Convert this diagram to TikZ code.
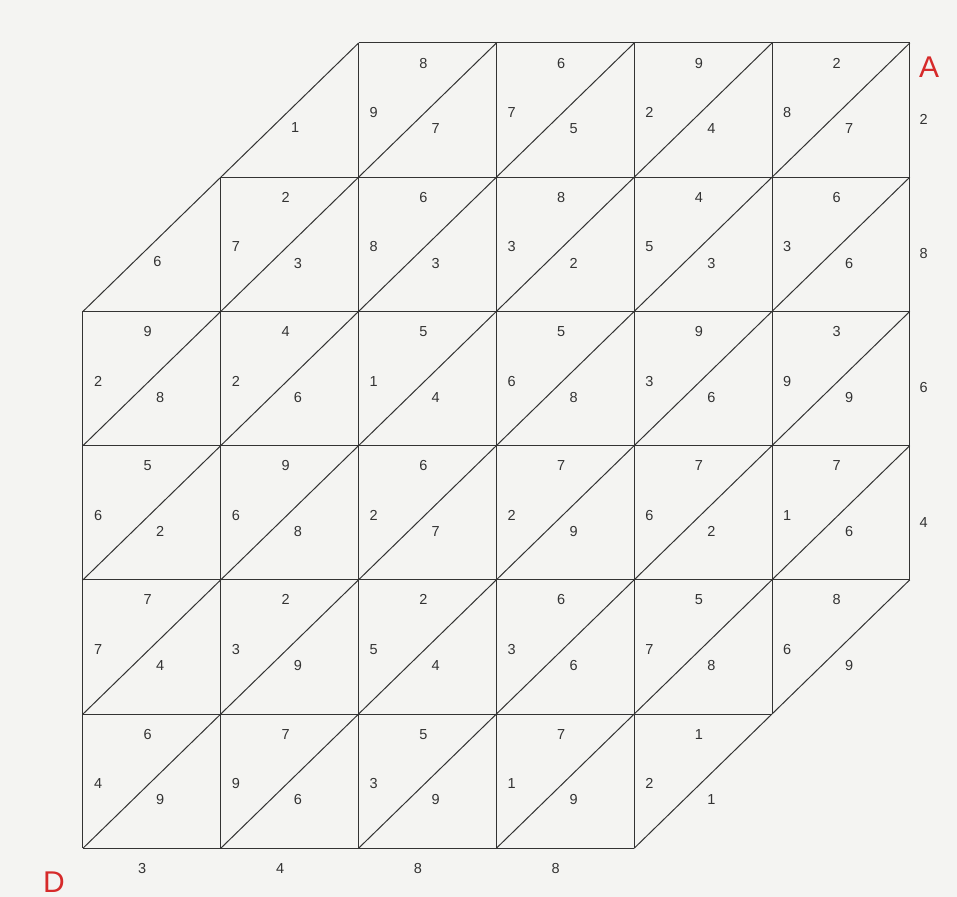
\documentclass[tikz,border=0pt]{standalone}
\usepackage{fontspec}
\setmainfont{Liberation Sans}
\usetikzlibrary{backgrounds}
\definecolor{paper}{HTML}{F4F4F2}
\definecolor{ink}{HTML}{333333}
\definecolor{tag}{HTML}{D62A2A}
\tikzset{
  gridline/.style={draw=ink,line width=1pt},
  num/.style={inner sep=0pt,text=ink,font=\fontsize{14.5}{16}\selectfont},
  corner/.style={inner sep=0pt,text=tag,font=\fontsize{30}{33}\selectfont},
}

\begin{document}
\begin{tikzpicture}[x=137.8pt,y=-134.2pt]
\fill[paper] (-0.6023,-0.3204) rectangle (6.3425,6.3636);
\useasboundingbox (-0.6023,-0.3204) rectangle (6.3425,6.3636);
% grid points
\foreach \c in {0,...,6}
  \foreach \r in {0,...,6}
    \coordinate (p\c-\r) at (\c,\r);
% verticals and horizontals (staircase cut at two corners)
\foreach \c/\a/\b in {0/2/6,1/1/6,2/0/6,3/0/6,4/0/6,5/0/5,6/0/4} {
  \draw[gridline] (p\c-\a) -- (p\c-\b);
  \draw[gridline] (p\a-\c) -- (p\b-\c);
}
% diagonals
\foreach \u/\v in {p0-2/p2-0,p0-3/p3-0,p0-4/p4-0,p0-5/p5-0,p0-6/p6-0,
                   p1-6/p6-1,p2-6/p6-2,p3-6/p6-3,p4-6/p6-4}
  \draw[gridline] (\u) -- (\v);
% cell values: col/row/top/left/diagonal
\foreach \c/\r/\t/\l/\g in {
    2/0/8/9/7, 3/0/6/7/5, 4/0/9/2/4, 5/0/2/8/7,
    1/1/2/7/3, 2/1/6/8/3, 3/1/8/3/2, 4/1/4/5/3, 5/1/6/3/6,
    0/2/9/2/8, 1/2/4/2/6, 2/2/5/1/4, 3/2/5/6/8, 4/2/9/3/6, 5/2/3/9/9,
    0/3/5/6/2, 1/3/9/6/8, 2/3/6/2/7, 3/3/7/2/9, 4/3/7/6/2, 5/3/7/1/6,
    0/4/7/7/4, 1/4/2/3/9, 2/4/2/5/4, 3/4/6/3/6, 4/4/5/7/8, 5/4/8/6/9,
    0/5/6/4/9, 1/5/7/9/6, 2/5/5/3/9, 3/5/7/1/9, 4/5/1/2/1} {
  \node[num] (top-\c-\r) at (\c+0.47,\r+0.15) {\t};
  \node[num] (left-\c-\r) at (\c+0.11,\r+0.52) {\l};
  \node[num] (diag-\c-\r) at (\c+0.56,\r+0.64) {\g};
}
% half cells on the upper cut
\foreach \c/\r/\g in {1/0/1, 0/1/6}
  \node[num] (diag-\c-\r) at (\c+0.54,\r+0.63) {\g};
% outer edges
\foreach \r/\v in {0/2, 1/8, 2/6, 3/4}
  \node[num] (right-\r) at (6.1,\r+0.57) {\v};
\foreach \c/\v in {0/3, 1/4, 2/8, 3/8}
  \node[num] (bot-\c) at (\c+0.43,6.15) {\v};
% end points
\node[corner] (A) at (6.14,0.18) {A};
\node[corner] (D) at (-0.21,6.25) {D};
\end{tikzpicture}
\end{document}
